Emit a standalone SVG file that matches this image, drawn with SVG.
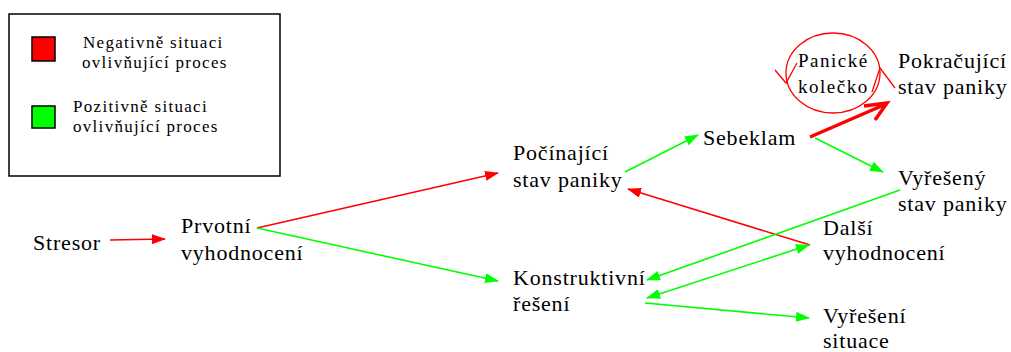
<svg xmlns="http://www.w3.org/2000/svg" width="1011" height="352" viewBox="0 0 1011 352">
<defs>
<style>
.r{stroke:#ff0000;stroke-width:1.6;fill:none}
.g{stroke:#00ff00;stroke-width:1.6;fill:none}
</style>
<marker id="ar" markerWidth="14" markerHeight="10" refX="13" refY="5" orient="auto" markerUnits="userSpaceOnUse"><path d="M0,0 L14,5 L0,10 z" fill="#ff0000"/></marker>
<marker id="ag" markerWidth="14" markerHeight="10" refX="13" refY="5" orient="auto-start-reverse" markerUnits="userSpaceOnUse"><path d="M0,0 L14,5 L0,10 z" fill="#00ff00"/></marker>
</defs>
<rect width="1011" height="352" fill="#fff"/>
<g id="legend" font-family="Liberation Serif" font-size="17" letter-spacing="1.3">
<rect x="9" y="14" width="271" height="162" fill="#fff" stroke="#000" stroke-width="1.5"/>
<rect x="32" y="37" width="23" height="24" fill="#ff0000" stroke="#000" stroke-width="1.5"/>
<rect x="32" y="106" width="23" height="22" fill="#00ff00" stroke="#000" stroke-width="1.5"/>
<text x="83" y="48">Negativně situaci</text>
<text x="82" y="68">ovlivňující proces</text>
<text x="73" y="112">Pozitivně situaci</text>
<text x="73" y="132">ovlivňující proces</text>
</g>
<g id="connectors">
<line class="r" x1="110" y1="240" x2="165" y2="239" marker-end="url(#ar)"/>
<line class="r" x1="257" y1="228" x2="498" y2="173" marker-end="url(#ar)"/>
<line class="g" x1="257" y1="228" x2="498" y2="281" marker-end="url(#ag)"/>
<line class="g" x1="625" y1="172" x2="698" y2="135" marker-end="url(#ag)"/>
<line class="r" x1="810" y1="245" x2="628" y2="189" marker-end="url(#ar)"/>
<line class="g" x1="815" y1="138" x2="883" y2="172" marker-end="url(#ag)"/>
<line class="g" x1="900" y1="190" x2="647" y2="280" marker-end="url(#ag)"/>
<line class="g" x1="647" y1="298" x2="809" y2="245" marker-start="url(#ag)" marker-end="url(#ag)"/>
<line class="g" x1="645" y1="303" x2="809" y2="318" marker-end="url(#ag)"/>
<line x1="810" y1="137" x2="886" y2="104" stroke="#ff0000" stroke-width="3.5"/>
<polyline points="864,106 887,103 875,120" fill="none" stroke="#ff0000" stroke-width="3.5" stroke-linejoin="miter"/>
</g>
<g id="panicke-kolecko" font-family="Liberation Serif" font-size="19" letter-spacing="1.5">
<ellipse cx="833" cy="73" rx="47" ry="40" fill="none" stroke="#ff0000" stroke-width="1.3"/>
<polyline points="775,70 786,83 797,63" fill="none" stroke="#ff0000" stroke-width="1.3"/>
<polyline points="872,92 880,68 895,88" fill="none" stroke="#ff0000" stroke-width="1.3"/>
<text x="798" y="67">Panické</text>
<text x="798" y="93">kolečko</text>
</g>
<g font-family="Liberation Serif" font-size="22" letter-spacing="0.8">
<g id="stresor"><text x="33" y="250">Stresor</text></g>
<g id="prvotni">
<text x="181" y="233">Prvotní</text>
<text x="181" y="260">vyhodnocení</text>
</g>
<g id="pocinajici">
<text x="513" y="160">Počínající</text>
<text x="513" y="187">stav paniky</text>
</g>
<g id="sebeklam"><text x="703" y="145">Sebeklam</text></g>
<g id="pokracujici">
<text x="898" y="68">Pokračující</text>
<text x="898" y="94">stav paniky</text>
</g>
<g id="vyreseny">
<text x="898" y="185">Vyřešený</text>
<text x="898" y="211">stav paniky</text>
</g>
<g id="konstruktivni">
<text x="513" y="285">Konstruktivní</text>
<text x="513" y="311">řešení</text>
</g>
<g id="dalsi">
<text x="823" y="235">Další</text>
<text x="823" y="260">vyhodnocení</text>
</g>
<g id="vyreseni">
<text x="823" y="323">Vyřešení</text>
<text x="823" y="348">situace</text>
</g>
</g>
</svg>
